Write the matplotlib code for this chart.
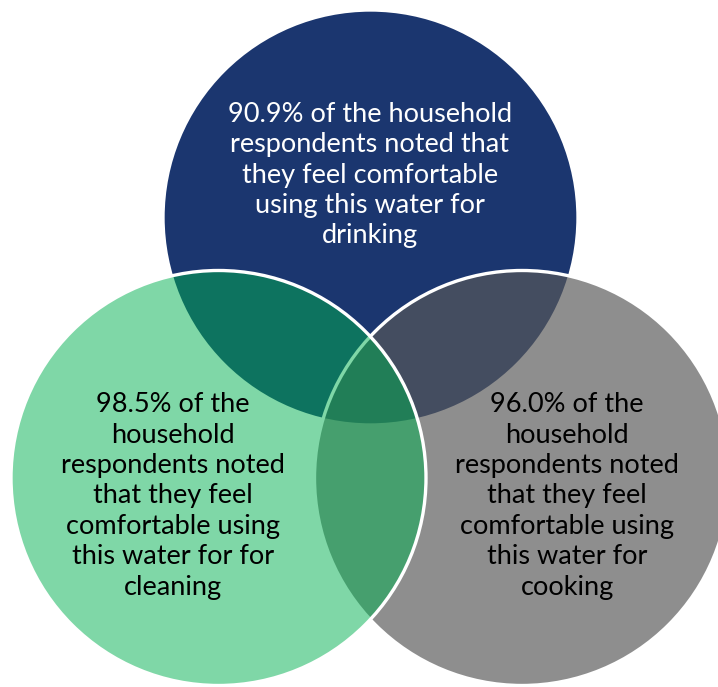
import matplotlib.pyplot as plt
from matplotlib.patches import Circle

# survey results: share of households comfortable using the water for each purpose
uses = ["drinking", "cleaning", "cooking"]
shares = [90.9, 98.5, 96.0]

# line-wrapped wording for each bubble ({} is the share)
wrapped = [
    "{}% of the household\nrespondents noted that\nthey feel comfortable\nusing this water for\n{}",
    "{}% of the\nhousehold\nrespondents noted\nthat they feel\ncomfortable using\nthis water for for\n{}",
    "{}% of the\nhousehold\nrespondents noted\nthat they feel\ncomfortable using\nthis water for\n{}",
]

# circle layout in pixel coordinates (x, y from top-left), drawn in this order
centers = [(370.5, 217.5), (218.5, 478.0), (522.0, 478.0)]
radius = 207.5
text_pos = [(370, 175), (173, 496), (567, 496)]
face = [(0.106, 0.212, 0.435, 1.0), (0.0, 0.69, 0.314, 0.5), (0.349, 0.349, 0.349, 0.68)]
text_color = ["white", "black", "black"]
# drawing order: top (drinking), right (cooking), left (cleaning) on top
order = [0, 2, 1]

fig = plt.figure(figsize=(7.18, 6.87), dpi=100)
ax = fig.add_axes([0, 0, 1, 1])
ax.set_xlim(0, 718)
ax.set_ylim(687, 0)
ax.set_aspect("equal")
ax.axis("off")

for i in order:
    ax.add_patch(Circle(centers[i], radius, facecolor=face[i],
                        edgecolor="white", linewidth=2.4))

for i in range(3):
    label = wrapped[i].format(f"{shares[i]:.1f}", uses[i])
    ax.text(text_pos[i][0], text_pos[i][1], label, ha="center", va="center",
            color=text_color[i], fontsize=19.5, family="Lato",
            linespacing=1.27)

fig.savefig("out.png", dpi=100)
